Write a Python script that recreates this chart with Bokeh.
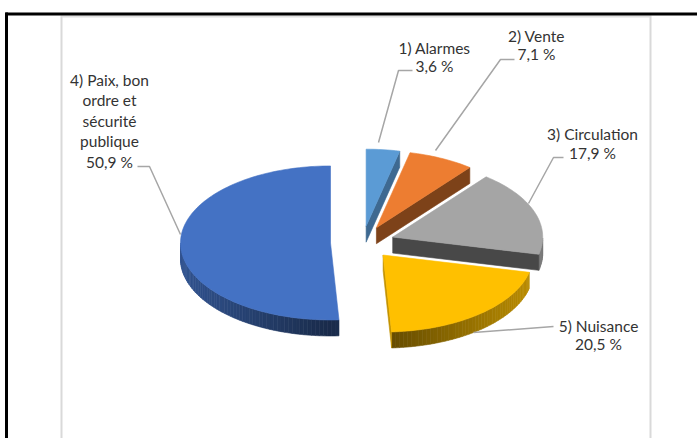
import math
from bokeh.plotting import figure
from bokeh.models import Range1d
from bokeh.core.properties import value
from bokeh.embed import file_html
from bokeh.resources import INLINE

# ---- data (clockwise from 12 o'clock) ----
categories = ["1) Alarmes", "2) Vente", "3) Circulation", "5) Nuisance",
              "4) Paix, bon\nordre et\nsécurité\npublique"]
shares = [3.6, 7.1, 17.9, 20.5, 50.9]
colors = ["#5B9BD5", "#ED7D31", "#A5A5A5", "#FFC000", "#4472C4"]

# ---- layout / style ----
W, H = 697, 438
CX, CY, RX, RY = 362, 242, 150, 77
EXPLODE = 32
DEPTH = 16
K = RY / RX

label_pos = [(434, 56), (536, 44), (592, 142.5), (598, 334), (109, 120)]
line_gap = [18, 18, 19, 18, 20.5]
leaders = [
    [(412, 70), (398, 70), (378, 142)],
    [(514, 59), (500, 59), (435, 150)],
    [(563, 157), (553, 157), (528, 203)],
    [(553, 326), (473, 332)],
    [(137, 166), (149, 166), (180, 234)],
]

p = figure(width=W, height=H, x_range=Range1d(0, W), y_range=Range1d(H, 0),
           output_backend="svg", toolbar_location=None, min_border=0)
p.axis.visible = False
p.grid.visible = False
p.outline_line_color = None
p.background_fill_color = "white"
p.border_fill_color = "white"

# frame lines
p.line([61, 61], [15, 440], line_color="#d9d9d9", line_width=2)
p.line([650, 650], [15, 440], line_color="#d9d9d9", line_width=2)
p.line([61, 650], [16, 16], line_color="#e0e0e0", line_width=2)
p.line([5, 700], [13.5, 13.5], line_color="black", line_width=3)
p.line([6, 6], [12, 440], line_color="black", line_width=3)


def shade(hexc, f):
    r, g, b = int(hexc[1:3], 16), int(hexc[3:5], 16), int(hexc[5:7], 16)
    return "#%02x%02x%02x" % (int(r * f), int(g * f), int(b * f))


total = sum(shares)
start = 0.0
tops = []
side_xs, side_ys, side_cols = [], [], []
for i, v in enumerate(shares):
    a0 = start
    a1 = start + v / total * 360.0
    start = a1
    mid = math.radians((a0 + a1) / 2)
    ax = CX + EXPLODE * math.sin(mid)
    ay = CY - EXPLODE * K * math.cos(mid)
    n = max(2, int((a1 - a0) / 1.5))
    angs = [a0 + (a1 - a0) * j / n for j in range(n + 1)]
    pts = [(ax, ay)] + [(ax + RX * math.sin(math.radians(a)),
                         ay - RY * math.cos(math.radians(a))) for a in angs]
    m = len(pts)
    cxp = sum(q[0] for q in pts) / m
    cyp = sum(q[1] for q in pts) / m
    for j in range(m):
        x1, y1 = pts[j]
        x2, y2 = pts[(j + 1) % m]
        if j == 0 or j == m - 1:
            dx, dy = x2 - x1, y2 - y1
            nx, ny = -dy, dx
            mxp, myp = (x1 + x2) / 2, (y1 + y2) / 2
            if nx * (mxp - cxp) + ny * (myp - cyp) < 0:
                nx, ny = -nx, -ny
            if ny <= 0:
                continue
            phi = math.atan2(nx / RX, -ny / RY)
            f = 0.42 + 0.35 * abs(math.sin(phi))
        else:
            amid = math.radians((angs[j - 1] + angs[j]) / 2)
            if math.cos(amid) > 0:
                continue
            f = 0.38 + 0.36 * abs(math.sin(amid))
        side_xs.append([x1, x2, x2, x1])
        side_ys.append([y1, y2, y2 + DEPTH, y1 + DEPTH])
        side_cols.append(shade(colors[i], f))
    tops.append(([q[0] for q in pts], [q[1] for q in pts]))

p.patches(side_xs, side_ys, fill_color=side_cols, line_color=side_cols, line_width=0.6)
p.patches([t[0] for t in tops], [t[1] for t in tops], fill_color=colors,
          line_color=colors, line_width=0.6)

# leader lines
p.multi_line([[q[0] for q in L] for L in leaders], [[q[1] for q in L] for L in leaders],
             line_color="#a6a6a6", line_width=1.5)

# labels, one text per line
lx_all, ly_all, lt_all = [], [], []
for c, s, (lx, ly), g in zip(categories, shares, label_pos, line_gap):
    lines = c.split("\n") + [("%.1f" % s).replace(".", ",") + " %"]
    n = len(lines)
    for k, t in enumerate(lines):
        lx_all.append(lx)
        ly_all.append(ly + (k - (n - 1) / 2) * g)
        lt_all.append(t)
p.text(lx_all, ly_all, text=lt_all, text_align="center", text_baseline="middle",
       text_font=value("Lato"), text_font_size="15.5px", text_color="#333333")

open("out.html", "w").write(file_html(p, INLINE))
